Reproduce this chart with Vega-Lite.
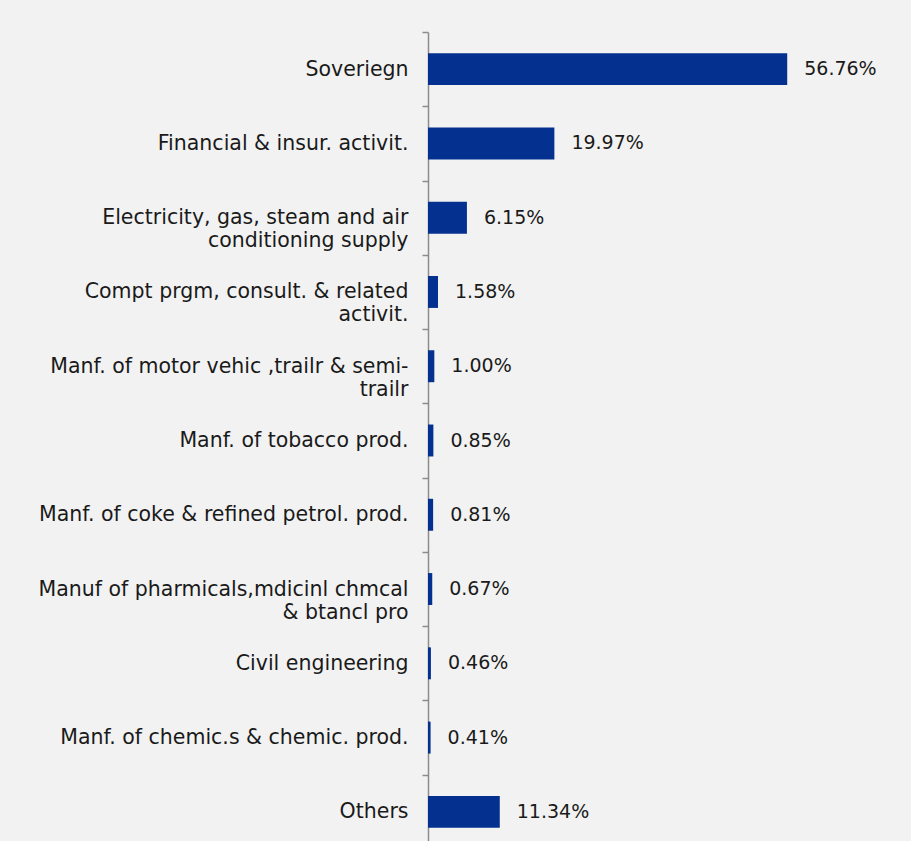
{
  "$schema": "https://vega.github.io/schema/vega-lite/v6.json",
  "width": 443,
  "height": 817,
  "autosize": "none",
  "padding": {"left": 428, "top": 32, "right": 40, "bottom": 0},
  "background": "#f2f2f2",
  "config": {"view": {"stroke": null}, "font": "DejaVu Sans"},
  "data": {
    "values": [
      {"sector": "Soveriegn", "value": 56.76},
      {"sector": "Financial & insur. activit.", "value": 19.97},
      {"sector": "Electricity, gas, steam and air\nconditioning supply", "value": 6.15},
      {"sector": "Compt prgm, consult. & related\nactivit.", "value": 1.58},
      {"sector": "Manf. of motor vehic ,trailr & semi-\ntrailr", "value": 1.0},
      {"sector": "Manf. of tobacco prod.", "value": 0.85},
      {"sector": "Manf. of coke & refined petrol. prod.", "value": 0.81},
      {"sector": "Manuf of pharmicals,mdicinl chmcal\n& btancl pro", "value": 0.67},
      {"sector": "Civil engineering", "value": 0.46},
      {"sector": "Manf. of chemic.s & chemic. prod.", "value": 0.41},
      {"sector": "Others", "value": 11.34}
    ]
  },
  "transform": [{"calculate": "format(datum.value, '.2f') + '%'", "as": "label"}],
  "encoding": {
    "y": {
      "field": "sector",
      "type": "nominal",
      "sort": null,
      "scale": {"paddingInner": 0, "paddingOuter": 0},
      "axis": {
        "title": null,
        "domainColor": "#8c8c8c",
        "domainWidth": 1.5,
        "tickColor": "#8c8c8c",
        "tickSize": 6,
        "tickWidth": 1.5,
        "tickBand": "extent",
        "labelFontSize": 20.5,
        "labelColor": "#1a1a1a",
        "labelPadding": 14,
        "labelLimit": 420,
        "labelLineHeight": 23,
        "labelExpr": "split(datum.label, '\\n')"
      }
    },
    "x": {
      "field": "value",
      "type": "quantitative",
      "scale": {"domain": [0, 70], "nice": false},
      "axis": null
    }
  },
  "layer": [
    {"mark": {"type": "bar", "color": "#04308f", "height": {"band": 0.43}}},
    {
      "mark": {"type": "text", "align": "left", "baseline": "middle", "dx": 17, "fontSize": 19, "color": "#1a1a1a"},
      "encoding": {"text": {"field": "label"}}
    }
  ]
}
